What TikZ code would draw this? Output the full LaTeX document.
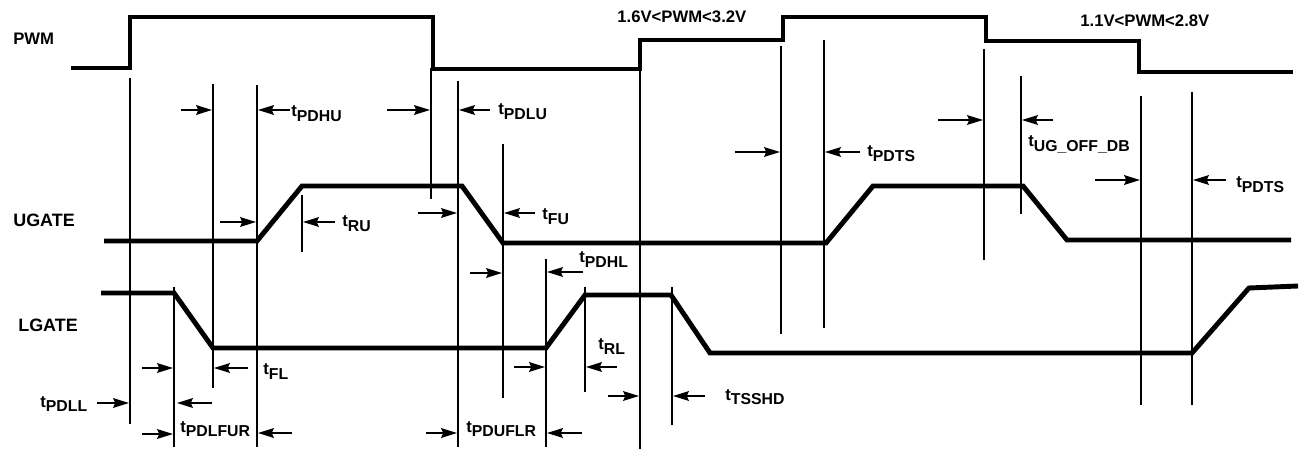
\documentclass[tikz,border=0pt]{standalone}
\usepackage{fontspec}
\setmainfont{Liberation Sans}
\usetikzlibrary{arrows.meta}

\newcommand{\tsub}[1]{t\raisebox{-2.8pt}{\fontsize{9}{10}\selectfont #1}}

\begin{document}
\begin{tikzpicture}[
    x=0.02cm, y=-0.02cm,
    >={Stealth[length=9pt, width=5.5pt, inset=1.2pt]},
    signal/.style={line width=2.8pt, line join=miter},
    marker/.style={line width=0.9pt},
    dim/.style={line width=1.1pt, ->},
    lbl/.style={font=\bfseries\fontsize{9.5}{11}\selectfont, inner sep=0pt, anchor=base west},
    signame/.style={lbl, font=\bfseries\fontsize{10.2}{12}\selectfont},
]
\useasboundingbox (0,0) rectangle (1299,449);

% Signal names
\node[lbl] (pwm) at (13,45) {PWM};
\node[signame] (ugate) at (13,227) {UGATE};
\node[signame] (lgate) at (18,332) {LGATE};
\node[lbl] (tri1) at (617,23) {1.6V<PWM<3.2V};
\node[lbl] (tri2) at (1080,27) {1.1V<PWM<2.8V};

% Waveforms
\draw[signal] (71,68) -- (130,68) -- (130,17) -- (433,17) -- (433,69) -- (640,69)
    -- (640,40) -- (783,40) -- (783,17) -- (986,17) -- (986,41) -- (1139,41)
    -- (1139,72) -- (1293,72);
\draw[signal] (104,241) -- (257,241) -- (302,186) -- (462,186) -- (503,243)
    -- (826,243) -- (873,186) -- (1023,186) -- (1067,240) -- (1291,240);
\draw[signal] (101,293) -- (174,293) -- (213,348) -- (546,348) -- (585,295)
    -- (671,295) -- (710,353) -- (1192,353) -- (1249,288) -- (1298,286);

% Timing markers
\draw[marker] (130,78) -- (130,424);
\draw[marker] (174,287) -- (174,447);
\draw[marker] (213,84) -- (213,388);
\draw[marker] (257,85) -- (257,447);
\draw[marker] (302,195) -- (302,252);
\draw[marker] (431,68) -- (431,199);
\draw[marker] (458,81) -- (458,447);
\draw[marker] (503,144) -- (503,398);
\draw[marker] (546,259) -- (546,447);
\draw[marker] (585,287) -- (585,392);
\draw[marker] (640,68) -- (640,449);
\draw[marker] (672,287) -- (672,425);
\draw[marker] (781,46) -- (781,334);
\draw[marker] (824,40) -- (824,328);
\draw[marker] (984,49) -- (984,260);
\draw[marker] (1021,76) -- (1021,214);
\draw[marker] (1141,96) -- (1141,405);
\draw[marker] (1192,92) -- (1192,405);

% Delay arrows
\draw[dim] (181,110) -- (212,110);
\draw[dim] (290,110) -- (258,110);
\draw[dim] (387,110) -- (430,110);
\draw[dim] (490,110) -- (459,110);
\draw[dim] (220,222) -- (256,222);
\draw[dim] (335,222) -- (303,222);
\draw[dim] (418,213) -- (457,213);
\draw[dim] (535,213) -- (504,213);
\draw[dim] (470,273) -- (502,273);
\draw[dim] (583,272) -- (547,272);
\draw[dim] (142,368) -- (173,368);
\draw[dim] (248,368) -- (214,368);
\draw[dim] (97,403) -- (129,403);
\draw[dim] (212,403) -- (177,403);
\draw[dim] (142,434) -- (173,434);
\draw[dim] (292,433) -- (258,433);
\draw[dim] (426,433) -- (457,433);
\draw[dim] (582,433) -- (547,433);
\draw[dim] (514,367) -- (545,367);
\draw[dim] (617,367) -- (586,367);
\draw[dim] (608,396) -- (639,396);
\draw[dim] (705,396) -- (673,396);
\draw[dim] (735,152) -- (780,152);
\draw[dim] (860,152) -- (825,152);
\draw[dim] (938,120) -- (983,120);
\draw[dim] (1053,120) -- (1022,120);
\draw[dim] (1095,180) -- (1140,180);
\draw[dim] (1226,180) -- (1193,180);

% Delay labels
\node[lbl] (pdhu) at (291,117) {\tsub{PDHU}};
\node[lbl] (pdlu) at (498,115) {\tsub{PDLU}};
\node[lbl] (ru) at (342,227) {\tsub{RU}};
\node[lbl] (fu) at (542,220) {\tsub{FU}};
\node[lbl] (pdhl) at (579,263) {\tsub{PDHL}};
\node[lbl] (fl) at (263,375) {\tsub{FL}};
\node[lbl] (pdll) at (40,407) {\tsub{PDLL}};
\node[lbl] (pdlfur) at (180,432) {\tsub{PDLFUR}};
\node[lbl] (pduflr) at (466,432) {\tsub{PDUFLR}};
\node[lbl] (rl) at (598,350) {\tsub{RL}};
\node[lbl] (tsshd) at (725,400) {\tsub{TSSHD}};
\node[lbl] (pdts1) at (867,157) {\tsub{PDTS}};
\node[lbl] (ugoff) at (1028,147) {\tsub{UG\_OFF\_DB}};
\node[lbl] (pdts2) at (1236,188) {\tsub{PDTS}};

\end{tikzpicture}
\end{document}
